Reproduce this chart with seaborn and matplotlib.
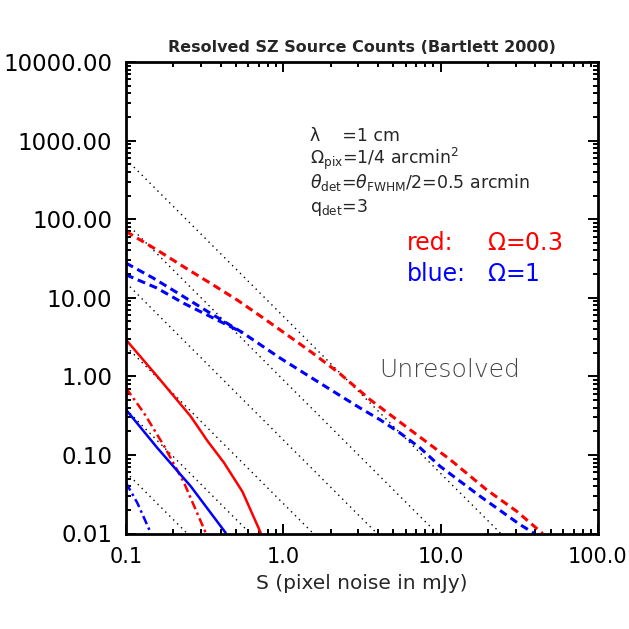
import numpy as np
import pandas as pd
import seaborn as sns
import matplotlib
matplotlib.use('Agg')
import matplotlib.pyplot as plt
from matplotlib.ticker import FixedLocator, LogLocator, FuncFormatter, NullFormatter

# abgelesene Kurven: S (pixel noise, mJy) gegen Anzahl aufgeloester Quellen
# rot: Omega=0.3, blau: Omega=1
red_dash_x = [0.1, 0.157, 0.231, 0.342, 0.506, 0.746, 1.22, 1.55, 2.29, 3.56, 6.38, 11.5, 19.6, 30.4, 44.5]
red_dash_y = [69.7, 40.7, 25.0, 15.4, 9.44, 5.52, 2.75, 1.95, 1.08, 0.505, 0.21, 0.087, 0.036, 0.0192, 0.01]

blue_dash1_x = [0.1, 0.149, 0.231, 0.342, 0.55, 0.953, 1.71, 3.07, 4.11, 5.52, 7.4, 9.9, 17.8, 31.9, 39.5]
blue_dash1_y = [27.6, 17.8, 10.4, 6.4, 3.6, 1.71, 0.82, 0.396, 0.281, 0.19, 0.123, 0.0718, 0.0298, 0.013, 0.01]
blue_dash2_x = [0.1, 0.157, 0.231, 0.359, 0.55]
blue_dash2_y = [19.6, 13.3, 8.57, 5.52, 3.6]

red_solid_x = [0.1, 0.158, 0.2576, 0.33, 0.42, 0.55, 0.718]
red_solid_y = [2.92, 1.0, 0.31, 0.15, 0.0793, 0.034, 0.0102]
red_dashdot_x = [0.1, 0.13, 0.175, 0.234, 0.321]
red_dashdot_y = [0.711, 0.342, 0.129, 0.0441, 0.0102]

blue_solid_x = [0.1, 0.158, 0.2576, 0.43]
blue_solid_y = [0.377, 0.123, 0.04, 0.0102]
blue_dashdot_x = [0.1, 0.118, 0.1436]
blue_dashdot_y = [0.0441, 0.0245, 0.0102]

# gepunktete Hilfslinien: Startwert bei S=0.1, Endpunkt S bei N=0.01
dot_y0 = [580, 90, 15.5, 2.4, 0.38, 0.06]
dot_x1 = [24.1, 9.5, 3.94, 1.55, 0.616, 0.245]

x_ticks = [0.1, 1.0, 10.0, 100.0]
y_ticks = [0.01, 0.1, 1.0, 10.0, 100.0, 1000.0, 10000.0]

sns.set_style('ticks')
plt.rcParams['font.family'] = ['DejaVu Sans']
plt.rcParams['mathtext.fontset'] = 'dejavusans'

W = 629.0
fig = plt.figure(figsize=(6.29, 6.29), dpi=100)
ax = fig.add_axes([126 / W, 95.5 / W, 472 / W, 471.5 / W])
ax.set_xscale('log')
ax.set_yscale('log')

for y0, x1 in zip(dot_y0, dot_x1):
    sns.lineplot(x=[0.1, x1], y=[y0, 0.01], ax=ax, color='black', lw=1.0,
                 linestyle=(0, (1, 3)), sort=False, estimator=None)

curves = [
    (red_dash_x, red_dash_y, 'red', 2.2, (0, (2.6, 1.6))),
    (blue_dash1_x, blue_dash1_y, 'blue', 2.2, (0, (2.6, 1.6))),
    (blue_dash2_x, blue_dash2_y, 'blue', 2.2, (0, (2.6, 1.6))),
    (red_solid_x, red_solid_y, 'red', 1.8, '-'),
    (red_dashdot_x, red_dashdot_y, 'red', 1.8, (0, (3.5, 1.5, 1, 1.5))),
    (blue_solid_x, blue_solid_y, 'blue', 1.8, '-'),
    (blue_dashdot_x, blue_dashdot_y, 'blue', 1.8, (0, (3.5, 1.5, 1, 1.5))),
]
for cx, cy, col, lw, ls in curves:
    df = pd.DataFrame({'S': cx, 'N': cy})
    sns.lineplot(data=df, x='S', y='N', ax=ax, color=col, lw=lw, linestyle=ls,
                 sort=False, estimator=None)

ax.set_xlim(0.1, 100)
ax.set_ylim(0.01, 10000)

ax.xaxis.set_major_locator(FixedLocator(x_ticks))
ax.yaxis.set_major_locator(FixedLocator(y_ticks))
ax.xaxis.set_major_formatter(FuncFormatter(lambda v, p: '%.1f' % v))
ax.yaxis.set_major_formatter(FuncFormatter(lambda v, p: '%.2f' % v))
ax.xaxis.set_minor_locator(LogLocator(base=10, subs=np.arange(2, 10)))
ax.yaxis.set_minor_locator(LogLocator(base=10, subs=np.arange(2, 10)))
ax.xaxis.set_minor_formatter(NullFormatter())
ax.yaxis.set_minor_formatter(NullFormatter())

ax.tick_params(which='both', direction='in', top=True, right=True, width=1.4, colors='black')
ax.tick_params(which='major', length=7)
ax.tick_params(which='minor', length=3.5)
ax.tick_params(axis='y', pad=10, labelsize=16.5)
ax.tick_params(axis='x', pad=10, labelsize=15)
for sp in ax.spines.values():
    sp.set_linewidth(2.0)
    sp.set_color('black')

ax.set_xlabel('S (pixel noise in mJy)', fontsize=14.5, labelpad=5)
ax.set_ylabel('')
ax.set_title('Resolved SZ Source Counts (Bartlett 2000)', fontsize=11.5,
             fontweight='bold', pad=7)

# Beschriftung im Plot (Pixelpositionen)
def fx(px):
    return px / W

def fy(py):
    return 1 - py / W

info = ['λ    =1 cm',
        r'$\Omega_{\rm pix}$=1/4 arcmin$^2$',
        r'$\theta_{\rm det}$=$\theta_{\rm FWHM}$/2=0.5 arcmin',
        r'q$_{\rm det}$=3']
for i, s in enumerate(info):
    fig.text(fx(310), fy(141 + 23.5 * i), s, fontsize=12.5, va='baseline', ha='left')

fig.text(fx(407), fy(250), 'red:', color='red', fontsize=17, va='baseline')
fig.text(fx(487), fy(250), r'$\Omega$=0.3', color='red', fontsize=17, va='baseline')
fig.text(fx(407), fy(281), 'blue:', color='blue', fontsize=17, va='baseline')
fig.text(fx(487), fy(281), r'$\Omega$=1', color='blue', fontsize=17, va='baseline')

fig.text(fx(379), fy(377), 'Unresolved', color='#444444', fontsize=18,
         fontweight='light', va='baseline')

fig.savefig('out.png', dpi=100, facecolor='white')
